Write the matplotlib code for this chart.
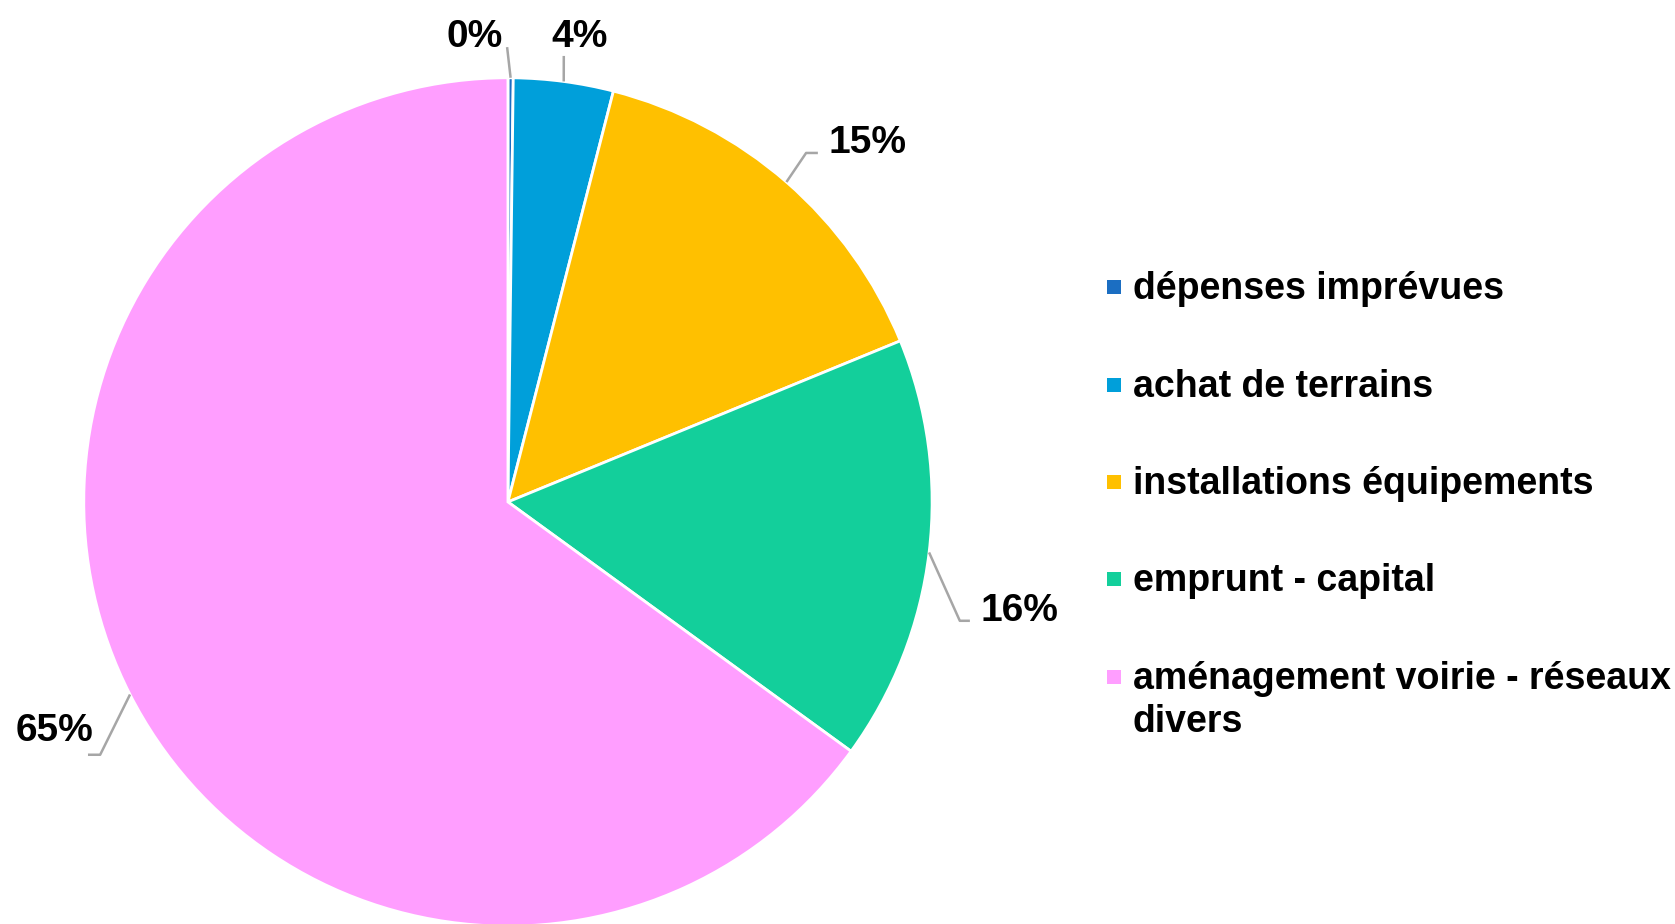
import numpy as np
import matplotlib
matplotlib.use('Agg')
import matplotlib.pyplot as plt
from matplotlib.patches import Rectangle

# Données
categories = ['dépenses imprévues', 'achat de terrains', 'installations équipements',
              'emprunt - capital', 'aménagement voirie - réseaux\ndivers']
valeurs = [0.2, 3.8, 14.8, 16.2, 65.0]
couleurs = ['#1B6EC2', '#009FDA', '#FFC000', '#13CF9B', '#FF9EFF']

# Mise en page des étiquettes (unités du camembert)
rayon = 1.01
pos_etiquettes = [(-0.079, 1.107), (0.171, 1.107), (0.857, 0.855), (1.217, -0.260), (-1.079, -0.545)]
coudes = [[(-0.002, 1.083)],
          [(0.133, 1.062)],
          [(0.710, 0.831), (0.738, 0.831)],
          [(1.076, -0.283), (1.100, -0.283)],
          [(-0.971, -0.602), (-1.000, -0.602)]]

plt.rcParams['font.family'] = ['Liberation Sans', 'DejaVu Sans']

fig = plt.figure(figsize=(16.75, 9.24), dpi=100)
fig.patch.set_facecolor('white')
ax = fig.add_axes([0, 0, 1, 1])

wedges, _ = ax.pie(valeurs, colors=couleurs, startangle=90, counterclock=False,
                   radius=rayon, wedgeprops=dict(edgecolor='white', linewidth=2))

# Lignes de rappel + pourcentages
total = sum(valeurs)
cumul = 0
for i, v in enumerate(valeurs):
    milieu = 90 - 360 * (cumul + v / 2) / total
    cumul += v
    x0, y0 = rayon * np.cos(np.radians(milieu)), rayon * np.sin(np.radians(milieu))
    pts = [(x0, y0)] + coudes[i]
    ax.plot([p[0] for p in pts], [p[1] for p in pts], color='#A6A6A6', lw=1.8,
            solid_capstyle='butt', zorder=1)
    ax.text(pos_etiquettes[i][0], pos_etiquettes[i][1], f"{round(v):.0f}%",
            ha='center', va='center', fontsize=28, fontweight='bold', color='black')

ax.set_xlim(-1.2095, 2.779)
ax.set_ylim(-1.0048, 1.195)
ax.axis('off')

# Légende dessinée à la main
lx, ly0, pas = 1.443, 0.483, 0.232
taille = 14 / 420
for i, (cat, c) in enumerate(zip(categories, couleurs)):
    yb = ly0 - i * pas
    ax.add_patch(Rectangle((lx - taille / 2, yb + 12 / 420 - taille / 2), taille, taille,
                           facecolor=c, edgecolor='none'))
    lignes = cat.split('\n')
    for k, t in enumerate(lignes):
        ax.text(lx + 19 / 420, yb - k * 43 / 420, t, ha='left', va='baseline',
                fontsize=27, fontweight='bold', color='black')

fig.savefig('out.png', dpi=100, facecolor='white')
